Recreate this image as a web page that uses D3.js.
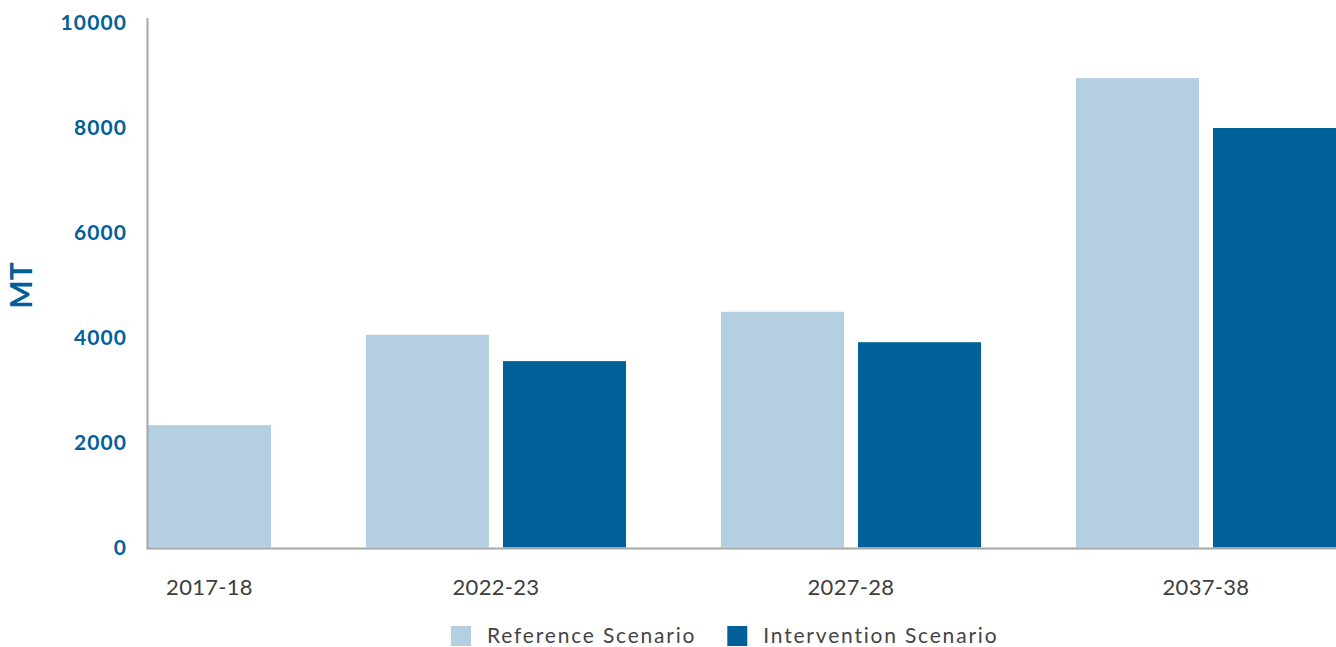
<!DOCTYPE html>
<html>
<head>
<meta charset="utf-8">
<script src="https://cdn.jsdelivr.net/npm/d3@7"></script>
<style>
  html, body { margin: 0; padding: 0; background: #fff; }
  svg { display: block; font-family: "Lato", "Open Sans", sans-serif; }
</style>
</head>
<body>
<svg id="chart" width="1336" height="647"></svg>
<script>
// Fiscal years on the x axis
const categories = ["2017-18", "2022-23", "2027-28", "2037-38"];
// Series names and values (MT); null means no bar for that year
const seriesNames = ["Reference Scenario", "Intervention Scenario"];
const referenceValues = [2340, 4060, 4500, 8950];
const interventionValues = [null, 3560, 3920, 8000];
const yTicks = [0, 2000, 4000, 6000, 8000, 10000];
const yTitle = "MT";

const colors = ["#b5cfe2", "#006098"];
const seriesValues = [referenceValues, interventionValues];

const svg = d3.select("#chart");
const plot = { left: 148, right: 1336, top: 23, bottom: 548 };

const y = d3.scaleLinear().domain([0, 10000]).range([plot.bottom, plot.top]);

// Lay bars out side by side: each bar is one unit, with a small gap inside a
// year group and a wider gap between years. Years with one value get one slot.
const innerGap = 0.114, outerGap = 0.772;
const bars = [];
const groups = [];
let u = 0;
categories.forEach((cat, ci) => {
  const start = u;
  let n = 0;
  seriesValues.forEach((vals, si) => {
    const v = vals[ci];
    if (v == null) return;
    if (n > 0) u += innerGap;
    bars.push({ cat, series: si, value: v, u0: u, u1: u + 1 });
    u += 1;
    n++;
  });
  groups.push({ cat, u0: start, u1: u });
  if (ci < categories.length - 1) u += outerGap;
});
const x = d3.scaleLinear().domain([0, u]).range([plot.left, plot.right]);

// Bars
svg.append("g").selectAll("rect").data(bars).join("rect")
  .attr("x", d => x(d.u0))
  .attr("width", d => x(d.u1) - x(d.u0))
  .attr("y", d => y(d.value))
  .attr("height", d => y(0) - y(d.value) - 0.5)
  .attr("fill", d => colors[d.series]);

// Axis lines
svg.append("line")
  .attr("x1", plot.left - 0.5).attr("x2", plot.left - 0.5)
  .attr("y1", y(10000) - 5).attr("y2", y(0) + 1)
  .attr("stroke", "#a6a6a6").attr("stroke-width", 2);
svg.append("line")
  .attr("x1", plot.left - 1.5).attr("x2", plot.right)
  .attr("y1", y(0) + 0.5).attr("y2", y(0) + 0.5)
  .attr("stroke", "#a6a6a6").attr("stroke-width", 2);

// Y axis labels
const yAxis = d3.axisLeft(y).tickValues(yTicks).tickSize(0).tickPadding(21)
  .tickFormat(d3.format("d"));
const ya = svg.append("g").attr("transform", `translate(${plot.left},0)`).call(yAxis);
ya.select(".domain").remove();
ya.selectAll("text")
  .attr("fill", "#00609a")
  .style("font-family", "Lato, sans-serif")
  .style("font-weight", 700)
  .style("font-size", "21px")
  .style("letter-spacing", "1.1px");

// Y title
svg.append("text")
  .attr("transform", `translate(32,${(plot.top + plot.bottom) / 2}) rotate(-90)`)
  .attr("text-anchor", "middle")
  .attr("fill", "#00609a")
  .style("font-weight", 700)
  .style("font-size", "30px")
  .text(yTitle);

// Year labels under each group
svg.append("g").selectAll("text").data(groups).join("text")
  .attr("x", d => x((d.u0 + d.u1) / 2))
  .attr("y", 595)
  .attr("text-anchor", "middle")
  .attr("fill", "#3d3d3d")
  .style("font-size", "22px")
  .style("letter-spacing", "0.3px")
  .text(d => d.cat);

// Legend
const legend = svg.append("g").attr("transform", "translate(451,626)");
let lx = 0;
seriesNames.forEach((name, i) => {
  const g = legend.append("g").attr("transform", `translate(${lx},0)`);
  g.append("rect").attr("width", 20).attr("height", 20).attr("fill", colors[i]);
  const t = g.append("text").attr("x", 36).attr("y", 17)
    .attr("fill", "#444").style("font-size", "21px")
    .style("letter-spacing", "1.8px").text(name);
  lx += 36 + t.node().getComputedTextLength() + 31;
});
</script>
</body>
</html>
